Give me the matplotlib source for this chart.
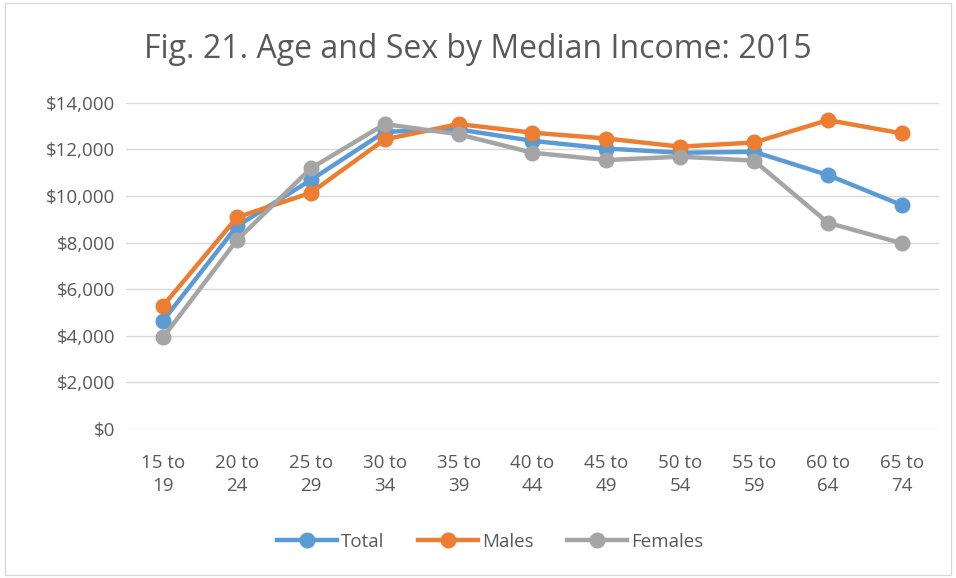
import matplotlib.pyplot as plt
from matplotlib.ticker import FuncFormatter
from matplotlib.patches import Rectangle

plt.rcParams['font.family'] = ['Open Sans', 'DejaVu Sans']

age_groups = ["15 to\n19", "20 to\n24", "25 to\n29", "30 to\n34", "35 to\n39", "40 to\n44",
              "45 to\n49", "50 to\n54", "55 to\n59", "60 to\n64", "65 to\n74"]
total = [4650, 8710, 10690, 12760, 12860, 12370, 12040, 11860, 11900, 10900, 9610]
males = [5290, 9085, 10140, 12430, 13090, 12720, 12470, 12120, 12300, 13260, 12690]
females = [3935, 8110, 11190, 13090, 12650, 11860, 11545, 11690, 11520, 8850, 7970]

text_color = "#595959"

fig = plt.figure(figsize=(9.56, 5.78), dpi=100)
fig.patches.append(Rectangle((0.005, 0.005), 0.99, 0.99, transform=fig.transFigure,
                             fill=False, edgecolor="#d9d9d9", linewidth=1))
ax = fig.add_axes([0.132, 0.258, 0.850, 0.564])

x = range(len(age_groups))
ax.plot(x, total, color="#5B9BD5", lw=3.2, marker="o", ms=10.5, label="Total")
ax.plot(x, males, color="#ED7D31", lw=3.2, marker="o", ms=10.5, label="Males")
ax.plot(x, females, color="#A5A5A5", lw=3.2, marker="o", ms=10.5, label="Females")

ax.set_xlim(-0.5, len(age_groups) - 0.5)
ax.set_ylim(0, 14000)
ax.set_yticks(range(0, 14001, 2000))
ax.yaxis.set_major_formatter(FuncFormatter(lambda v, p: "${:,.0f}".format(v)))
ax.set_xticks(list(x))
ax.set_xticklabels(age_groups, linespacing=1.35)
ax.tick_params(length=0, labelsize=13.5, colors=text_color)
ax.tick_params(axis="x", pad=18)
ax.tick_params(axis="y", pad=8)
ax.grid(axis="y", color="#d9d9d9", lw=1)
ax.set_axisbelow(True)
for s in ax.spines.values():
    s.set_visible(False)

fig.text(0.5, 0.915, "Fig. 21. Age and Sex by Median Income: 2015", ha="center", va="center",
         fontsize=23, color=text_color)

leg = ax.legend(loc="center", bbox_to_anchor=(0.513, 0.063), bbox_transform=fig.transFigure,
                ncol=3, frameon=False, fontsize=13.5, handlelength=3.2, columnspacing=1.8,
                handletextpad=0.2)
for t in leg.get_texts():
    t.set_color(text_color)

fig.savefig("out.png", dpi=100)
